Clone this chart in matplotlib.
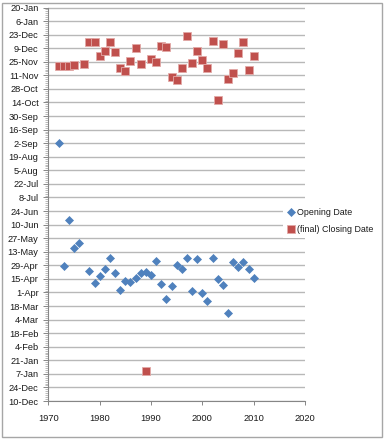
import matplotlib
matplotlib.use("Agg")
import matplotlib.pyplot as plt
from matplotlib.patches import Rectangle
from matplotlib.ticker import FixedLocator
import matplotlib.dates as mdates
from datetime import datetime, timedelta

plt.rcParams['font.family'] = ['Liberation Sans', 'DejaVu Sans']

# ---------------- data ----------------
open_years = [1972, 1973, 1974, 1975, 1976, 1978, 1979, 1980, 1981, 1982,
              1983, 1984, 1985, 1986, 1987, 1988, 1989, 1990, 1991, 1992,
              1993, 1994, 1995, 1996, 1997, 1998, 1999, 2000, 2001, 2002,
              2003, 2004, 2005, 2006, 2007, 2008, 2009, 2010]
open_dates = ["2-Sep", "28-Apr", "15-Jun", "17-May", "22-May", "23-Apr", "11-Apr", "18-Apr", "25-Apr", "7-May",
              "21-Apr", "4-Apr", "13-Apr", "12-Apr", "16-Apr", "21-Apr", "22-Apr", "19-Apr", "3-May", "10-Apr",
              "25-Mar", "8-Apr", "29-Apr", "25-Apr", "7-May", "3-Apr", "6-May", "31-Mar", "23-Mar", "7-May",
              "15-Apr", "9-Apr", "11-Mar", "2-May", "27-Apr", "2-May", "25-Apr", "16-Apr"]

close_years = [1972, 1973, 1974, 1975, 1977, 1978, 1979, 1980, 1981, 1982,
               1983, 1984, 1985, 1986, 1987, 1988, 1989, 1990, 1991, 1992,
               1993, 1994, 1995, 1996, 1997, 1998, 1999, 2000, 2001, 2002,
               2003, 2004, 2005, 2006, 2007, 2008, 2009, 2010]
close_dates = ["21-Nov", "21-Nov", "21-Nov", "22-Nov", "23-Nov", "15-Dec", "15-Dec", "1-Dec", "6-Dec", "15-Dec",
               "5-Dec", "19-Nov", "15-Nov", "26-Nov", "9-Dec", "23-Nov", "10-Jan", "28-Nov", "25-Nov", "11-Dec",
               "10-Dec", "9-Nov", "6-Nov", "19-Nov", "22-Dec", "24-Nov", "6-Dec", "27-Nov", "19-Nov", "16-Dec",
               "17-Oct", "13-Dec", "7-Nov", "13-Nov", "4-Dec", "15-Dec", "17-Nov", "1-Dec"]

ytick_labels = ["10-Dec", "24-Dec", "7-Jan", "21-Jan", "4-Feb", "18-Feb", "4-Mar", "18-Mar",
                "1-Apr", "15-Apr", "29-Apr", "13-May", "27-May", "10-Jun", "24-Jun", "8-Jul",
                "22-Jul", "5-Aug", "19-Aug", "2-Sep", "16-Sep", "30-Sep", "14-Oct", "28-Oct",
                "11-Nov", "25-Nov", "9-Dec", "23-Dec", "6-Jan", "20-Jan"]
xticks = [1970, 1980, 1990, 2000, 2010, 2020]

series_labels = ["Opening Date", "(final) Closing Date"]

# ---------------- helpers ----------------
def to_date(s):
    return datetime.strptime(s + "-1900", "%d-%b-%Y")

y_start = datetime(1899, 12, 10)
ytick_pos = [mdates.date2num(y_start + timedelta(days=14 * i)) for i in range(len(ytick_labels))]

open_y = [mdates.date2num(to_date(s)) for s in open_dates]
close_y = [mdates.date2num(to_date(s)) for s in close_dates]

# ---------------- figure ----------------
W, H = 385, 440
fig = plt.figure(figsize=(W / 100, H / 100), dpi=100)
ax = fig.add_axes([48.3 / W, 1 - 401 / H, (305 - 48.3) / W, (401 - 7.5) / H])

grid_c = '#B8B8B8'
ax.set_xlim(1970, 2020)
ax.set_ylim(ytick_pos[0], ytick_pos[-1])
ax.yaxis.set_major_locator(FixedLocator(ytick_pos))
ax.set_yticklabels(ytick_labels)
ax.yaxis.set_minor_locator(FixedLocator([ytick_pos[0] + 2 * k for k in range(int((ytick_pos[-1] - ytick_pos[0]) / 2) + 1)]))
ax.set_xticks(xticks)
ax.set_xticklabels([str(v) for v in xticks])

ax.grid(axis='y', which='major', color=grid_c, linewidth=1.0, zorder=0)
ax.set_axisbelow(True)
for sp in ['top', 'right']:
    ax.spines[sp].set_visible(False)
for sp in ['left', 'bottom']:
    ax.spines[sp].set_color('#868686')
    ax.spines[sp].set_linewidth(0.8)

ax.tick_params(axis='y', which='major', length=3.5, width=0.7, color='#868686',
               labelsize=6.7, pad=3.5, labelcolor='#1A1A1A')
ax.tick_params(axis='y', which='minor', length=2, width=0.5, color='#A0A0A0')
ax.tick_params(axis='x', which='major', length=3, width=0.7, color='#868686',
               labelsize=6.7, pad=6, labelcolor='#1A1A1A')

blue = '#4F81BD'
red = '#C0504D'
h1, = ax.plot(open_years, open_y, linestyle='none', marker='D', markersize=3.9,
              markerfacecolor=blue, markeredgecolor=blue, markeredgewidth=0.5,
              label=series_labels[0], zorder=3, clip_on=False)
h2, = ax.plot(close_years, close_y, linestyle='none', marker='s', markersize=5.1,
              markerfacecolor=red, markeredgecolor='#E2A9A7', markeredgewidth=0.6,
              label=series_labels[1], zorder=3, clip_on=False)

leg = ax.legend(handles=[h1, h2], loc='upper left',
                bbox_to_anchor=(283 / W, 1 - 204 / H), bbox_transform=fig.transFigure,
                frameon=True, facecolor='white', edgecolor='none', framealpha=1,
                fontsize=6.4, handlelength=0.8, handletextpad=0.35, labelspacing=0.9,
                borderpad=0.45, borderaxespad=0, fancybox=False)
leg.set_zorder(5)
for t in leg.get_texts():
    t.set_color('#1A1A1A')

# outer chart border
fig.patches.append(Rectangle((2 / W, 3 / H), (382 - 2) / W, (437 - 3) / H,
                             transform=fig.transFigure, fill=False,
                             edgecolor='#A6A6A6', linewidth=1.0))

fig.savefig("out.png", dpi=100)
